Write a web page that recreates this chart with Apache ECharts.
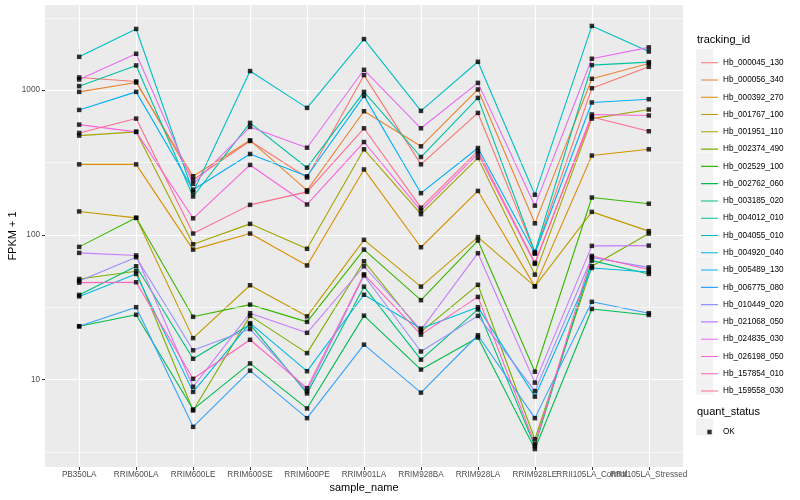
<!DOCTYPE html>
<html><head><meta charset="utf-8">
<script src="https://cdn.jsdelivr.net/npm/echarts@6/dist/echarts.min.js"></script>
<style>html,body{margin:0;padding:0;background:#fff}#c{width:800px;height:500px}</style>
</head><body><div id="c"></div>
<script>
const categories = ['PB350LA','RRIM600LA','RRIM600LE','RRIM600SE','RRIM600PE','RRIM901LA','RRIM928BA','RRIM928LA','RRIM928LE','RRII105LA_Control','RRII105LA_Stressed'];
const trackingIds = ['Hb_000045_130','Hb_000056_340','Hb_000392_270','Hb_001767_100','Hb_001951_110','Hb_002374_490','Hb_002529_100','Hb_002762_060','Hb_003185_020','Hb_004012_010','Hb_004055_010','Hb_004920_040','Hb_005489_130','Hb_006775_080','Hb_010449_020','Hb_021068_050','Hb_024835_030','Hb_026198_050','Hb_157854_010','Hb_159558_030'];
const colors = ['#F8766D','#EA8331','#D89000','#C09B00','#A3A500','#7CAE00','#39B600','#00BB4E','#00BF7D','#00C1A3','#00BFC4','#00BAE0','#00B0F6','#35A2FF','#9590FF','#C77CFF','#E76BF3','#FA62DB','#FF62BC','#FF6C91'];

const Hb_000045_130 = [1224, 1149, 240, 445, 249, 1270, 307, 696, 75, 1032, 1450];
const Hb_000056_340 = [973, 1130, 254, 450, 203, 715, 409, 1011, 120, 1198, 1530];
const Hb_000392_270 = [307, 307, 79, 102, 61.4, 283, 82, 201, 44, 353, 390];
const Hb_001767_100 = [145, 131, 19.3, 44.8, 27.3, 92.3, 43.8, 96.4, 44, 144, 106];
const Hb_001951_110 = [485, 515, 86, 119, 80, 390, 139, 340, 53, 636, 735];
const Hb_002374_490 = [49.5, 56, 6.1, 27.5, 15.2, 65.6, 21.3, 45.1, 3.86, 60.6, 102];
const Hb_002529_100 = [82.5, 131, 27.1, 32.9, 25, 79, 35.3, 91.3, 11.3, 181, 164];
const Hb_002762_060 = [23.3, 28, 6.2, 12.9, 6.3, 27.6, 11.7, 19.5, 3.3, 30.7, 27.9];
const Hb_003185_020 = [38.4, 60.6, 13.9, 24, 8.0, 43.8, 13.7, 30.5, 3.46, 66.3, 53.6];
const Hb_004012_010 = [1066, 1483, 184, 594, 291, 973, 345, 884, 76, 1490, 1563];
const Hb_004055_010 = [1700, 2650, 197, 1355, 754, 2255, 719, 1571, 189, 2780, 1850];
const Hb_004920_040 = [37.5, 53.6, 8.2, 24.5, 11.4, 38.5, 22.5, 31.6, 7.6, 59, 55.3];
const Hb_005489_130 = [730, 973, 205, 362, 254, 913, 194, 398, 74, 822, 866];
const Hb_006775_080 = [23.3, 31.6, 4.7, 11.5, 5.4, 17.4, 8.1, 20.2, 5.4, 34.4, 28.7];
const Hb_010449_020 = [48, 70, 15.9, 22.3, 8.3, 52.3, 15.6, 27.5, 8.3, 69.7, 59.5];
const Hb_021068_050 = [75, 72, 8.9, 28.7, 21, 60.6, 22.0, 74.6, 9.5, 83.8, 84.2];
const Hb_024835_030 = [1186, 1786, 225, 557, 400, 1383, 545, 1123, 159, 1649, 1977];
const Hb_026198_050 = [578, 515, 130, 304, 162, 438, 147, 364, 63, 679, 668];
const Hb_157854_010 = [46.7, 47, 10.1, 18.8, 8.7, 53.3, 20.4, 37.2, 3.57, 71.4, 57.6];
const Hb_159558_030 = [506, 636, 102, 161, 198, 545, 154, 380, 64, 653, 520];

const seriesValues = [Hb_000045_130, Hb_000056_340, Hb_000392_270, Hb_001767_100, Hb_001951_110, Hb_002374_490, Hb_002529_100, Hb_002762_060, Hb_003185_020, Hb_004012_010, Hb_004055_010, Hb_004920_040, Hb_005489_130, Hb_006775_080, Hb_010449_020, Hb_021068_050, Hb_024835_030, Hb_026198_050, Hb_157854_010, Hb_159558_030];

const yTicks = [10, 100, 1000];
const yMinorBreaks = [3.1623, 31.623, 316.23, 3162.3];
const statusLevels = ['OK'];

const FONT = '"Liberation Sans", Arial, sans-serif';
const LABEL_SIZE = 8.2;
// discrete positions 1..n (ggplot-style), with 0.6 padding on each side
const catPos = categories.map((_, i) => i + 1);
// labels split over two overlaid axes (alternating) so overlapping neighbours both stay visible
const catPosOdd = catPos.filter((_, i) => i % 2 === 0);
const catPosEven = catPos.filter((_, i) => i % 2 === 1);
const catName = v => categories[Math.round(v) - 1];

const lineSeries = trackingIds.map((id, k) => ({
  name: id,
  type: 'line',
  xAxisIndex: 0,
  data: seriesValues[k].map((v, i) => [catPos[i], v]),
  showSymbol: false,
  symbol: 'none',
  lineStyle: { color: colors[k], width: 1.1 },
  itemStyle: { color: colors[k] },
  color: colors[k],
  z: 2,
  silent: true
}));

const pointData = [];
seriesValues.forEach(vals => vals.forEach((v, i) => pointData.push([catPos[i], v])));

const gridDummy = {
  type: 'line', name: '__grid', data: [], z: 1, silent: true, xAxisIndex: 0,
  markLine: {
    silent: true, symbol: ['none', 'none'], label: { show: false },
    lineStyle: { color: '#FFFFFF', width: 0.6, type: 'solid' },
    animation: false,
    data: yMinorBreaks.map(v => ({ yAxis: v }))
  }
};

// legend key backgrounds (layout only)
const legTop = 49.2, legStep = 17.28, keyLeft = 696, keySize = 17;
const graphics = [];
trackingIds.forEach((_, i) => {
  graphics.push({ type: 'rect', left: keyLeft, top: legTop + i * legStep, shape: { width: keySize, height: keySize }, style: { fill: '#F2F2F2' }, z: 0 });
});
graphics.push({ type: 'rect', left: keyLeft, top: 418.5, shape: { width: keySize, height: keySize }, style: { fill: '#F2F2F2' }, z: 0 });
graphics.push({ type: 'text', left: 697, top: 34.5, style: { text: 'tracking_id', font: '11px ' + FONT, fill: '#000' } });
graphics.push({ type: 'text', left: 697, top: 406.5, style: { text: 'quant_status', font: '11px ' + FONT, fill: '#000' } });

const xBase = {
  type: 'value', min: 0.4, max: categories.length + 0.6, position: 'bottom',
  axisLine: { show: false, onZero: false }
};

const chart = echarts.init(document.getElementById('c'), null, { renderer: 'canvas' });
chart.setOption({
  animation: false,
  backgroundColor: '#FFFFFF',
  textStyle: { fontFamily: FONT },
  grid: { left: 45, right: 117, top: 5, bottom: 33, show: true, backgroundColor: '#EBEBEB', borderWidth: 0, containLabel: false, outerBoundsMode: 'none' },
  xAxis: [
    Object.assign({}, xBase, {
      name: 'sample_name', nameLocation: 'middle', nameGap: 15, nameMoveOverlap: false,
      nameTextStyle: { fontSize: 11, color: '#000', fontFamily: FONT },
      axisTick: { show: true, customValues: catPos, length: 3, lineStyle: { color: '#333333', width: 1 } },
      axisLabel: { customValues: catPosOdd, formatter: catName, fontSize: LABEL_SIZE, color: '#4D4D4D', margin: 4, hideOverlap: false, fontFamily: FONT },
      splitLine: { show: true, lineStyle: { color: '#FFFFFF', width: 1.2 } }
    }),
    Object.assign({}, xBase, {
      axisTick: { show: false, customValues: catPosEven },
      axisLabel: { customValues: catPosEven, formatter: catName, fontSize: LABEL_SIZE, color: '#4D4D4D', margin: 4, hideOverlap: false, fontFamily: FONT },
      splitLine: { show: false }
    })
  ],
  yAxis: {
    type: 'log', logBase: 10, min: 2.48, max: 3880, position: 'left',
    name: 'FPKM + 1', nameLocation: 'middle', nameGap: 27, nameRotate: 90, nameMoveOverlap: false,
    nameTextStyle: { fontSize: 11, color: '#000', fontFamily: FONT },
    axisLine: { show: false, onZero: false },
    axisTick: { show: true, customValues: yTicks, length: 3, lineStyle: { color: '#333333', width: 1 } },
    axisLabel: { customValues: yTicks, formatter: v => String(Math.round(v)), fontSize: LABEL_SIZE, color: '#4D4D4D', margin: 5, fontFamily: FONT },
    splitLine: { show: true, lineStyle: { color: '#FFFFFF', width: 1.2 } },
    minorSplitLine: { show: false }
  },
  legend: [
    {
      data: trackingIds, orient: 'vertical', left: keyLeft, top: legTop,
      itemWidth: keySize, itemHeight: keySize, itemGap: legStep - keySize,
      selectedMode: false,
      icon: 'path://M0,0h0.01v0.01h-0.01z M0,7.95h17v1.1h-17z M16.99,16.99h0.01v0.01h-0.01z',
      textStyle: { fontSize: LABEL_SIZE, color: '#000', fontFamily: FONT, padding: [0, 0, 0, 0] }
    },
    {
      data: statusLevels, orient: 'vertical', left: keyLeft, top: 418.5,
      itemWidth: keySize, itemHeight: keySize, selectedMode: false,
      icon: 'path://M0,0h0.01v0.01h-0.01z M6.3,6.3h4.4v4.4h-4.4z M16.99,16.99h0.01v0.01h-0.01z',
      textStyle: { fontSize: LABEL_SIZE, color: '#000', fontFamily: FONT }
    }
  ],
  graphic: graphics,
  series: [gridDummy].concat(lineSeries).concat([{
    name: 'OK', type: 'scatter', xAxisIndex: 0, data: pointData, symbol: 'rect', symbolSize: 4.5,
    itemStyle: { color: '#000000' }, z: 5, silent: true
  }])
});
</script></body></html>
